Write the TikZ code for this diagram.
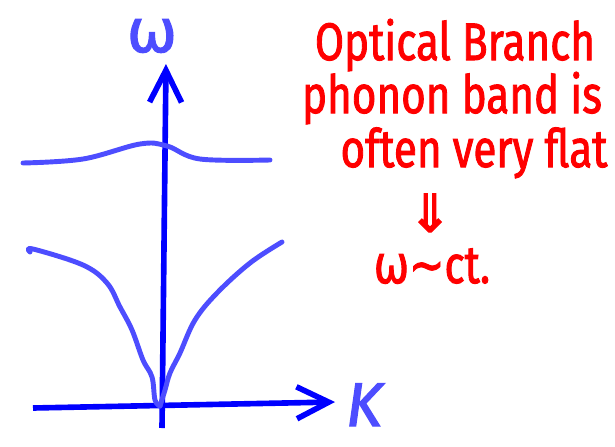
\documentclass[tikz,border=0pt]{standalone}
\usepackage{fontspec}
\setmainfont{Fira Sans}
\newfontfamily\notefont[FakeBold=2]{Fira Sans}
\newfontfamily\symfont[FakeBold=2]{DejaVu Sans}
\usetikzlibrary{arrows.meta,positioning}

\definecolor{axisblue}{RGB}{0,0,255}
\definecolor{curveblue}{RGB}{77,77,255}
\definecolor{notered}{RGB}{255,0,0}
\newcommand{\narrow}[1]{\scalebox{0.8}[1]{#1}}

\begin{document}
\begin{tikzpicture}[
  x=0.05cm, y=-0.05cm,
  axis/.style={draw=axisblue, line width=8pt, -{Straight Barb[length=1.6cm, width=1.6cm, line width=8pt]}},
  branch/.style={draw=curveblue, line width=7pt, line cap=round, line join=round, smooth, tension=0.6},
  axislabel/.style={text=curveblue, inner sep=0pt},
  note/.style={text=notered, font=\fontsize{75}{75}\selectfont\notefont, inner sep=0pt, anchor=base}
]
  \useasboundingbox (0,0) rectangle (615,446);

  % Axes: omega up, K to the right
  \coordinate (wbot) at (162,428);
  \coordinate (wtop) at (166,64);
  \coordinate (kleft) at (33,408);
  \coordinate (kright) at (335,402);
  \draw[axis] (wbot) -- (wtop);
  \draw[axis] (kleft) -- (kright);

  \node[axislabel, font=\fontsize{85}{85}\selectfont\symfont] (wlabel) at (152,36) {ω};
  \node[axislabel, anchor=base, font=\fontsize{88}{88}\selectfont\notefont\itshape] (klabel) at (364,426) {K};

  % Optical branch: nearly flat
  \draw[branch] plot coordinates {(23,163) (83,159) (140,144) (167,146) (200,159) (270,160)};

  % Acoustic branch: goes to zero at K=0
  \draw[branch] plot coordinates {(30,252) (33,249) (83,265) (107,283) (120,307) (132,330) (143,360) (152,377) (155,400) (160,406)};
  \draw[branch] plot coordinates {(160,406) (165,390) (170,373) (180,353) (195,320) (217,293) (250,263) (282,242)};

  % Note
  \node[note] (optical) at (455,60) {\narrow{Optical Branch}};
  \node[note] (phonon) at (452,113) {\narrow{phonon band is}};
  \node[note] (flat) at (474,167) {\narrow{often very flat}};
  \node[note, font=\fontsize{75}{75}\selectfont\symfont] (implies) at (430,232) {⇓};
  \node[note] (result) at (432,283) {\narrow{{\symfont ω∼}ct.}};
\end{tikzpicture}
\end{document}
